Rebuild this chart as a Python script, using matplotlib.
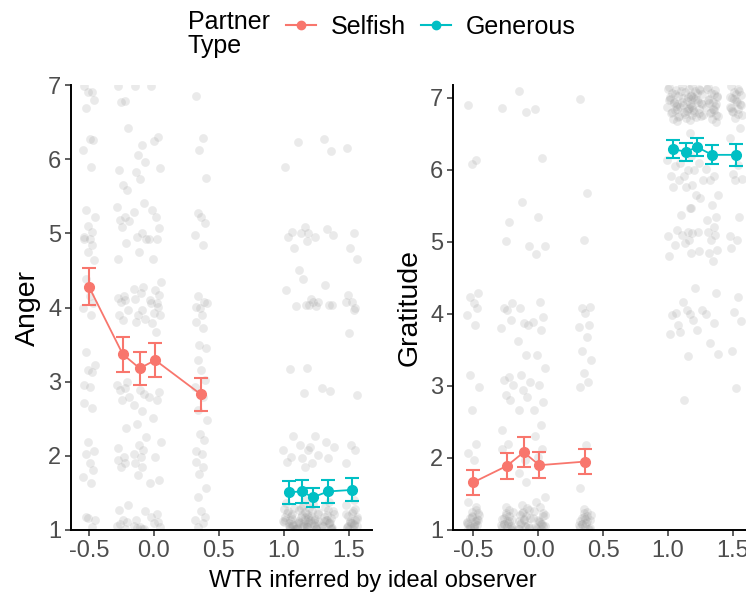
import matplotlib
matplotlib.use("Agg")
import matplotlib.pyplot as plt
from matplotlib.lines import Line2D

plt.rcParams['font.family'] = ['Liberation Sans', 'DejaVu Sans']
plt.rcParams['axes.unicode_minus'] = False

SELFISH = "#F8766D"
GENEROUS = "#00BFC4"

# WTR levels (x) for each partner type
x_selfish = [-0.50, -0.24, -0.11, 0.01, 0.36]
x_generous = [1.04, 1.14, 1.22, 1.34, 1.52]
x_ticks = [-0.5, 0.0, 0.5, 1.0, 1.5]
x_ticklabels = ["-0.5", "0.0", "0.5", "1.0", "1.5"]
y_ticks = [1, 2, 3, 4, 5, 6, 7]

# means and standard errors
anger_selfish_mean = [4.28, 3.37, 3.18, 3.29, 2.83]
anger_selfish_se = [0.25, 0.235, 0.22, 0.23, 0.22]
anger_generous_mean = [1.51, 1.52, 1.44, 1.52, 1.54]
anger_generous_se = [0.155, 0.155, 0.125, 0.155, 0.155]
grat_selfish_mean = [1.66, 1.89, 2.08, 1.90, 1.95]
grat_selfish_se = [0.175, 0.18, 0.21, 0.18, 0.175]
grat_generous_mean = [6.29, 6.25, 6.32, 6.21, 6.21]
grat_generous_se = [0.125, 0.13, 0.13, 0.13, 0.15]

# raw (jittered) ratings, one list per WTR level
anger_selfish_raw = [
    [6.99, 6.90, 6.90, 6.80, 6.69, 6.27, 6.26, 6.13, 5.89, 5.32, 5.22, 5.10, 5.02, 4.95, 4.93,
     4.92, 4.84, 4.75, 4.64, 4.38, 4.15, 4.06, 3.99, 3.90, 3.40, 3.22, 3.16, 3.13, 2.96, 2.93,
     2.71, 2.64, 2.19, 2.06, 2.02, 1.90, 1.81, 1.72, 1.64, 1.18, 1.13, 1.16, 1.04],
    [6.98, 6.79, 6.77, 6.42, 5.85, 5.65, 5.58, 5.36, 5.22, 5.18, 5.16, 5.09, 4.87, 4.66, 4.15,
     4.13, 4.10, 4.08, 3.97, 3.90, 3.83, 3.00, 2.96, 2.92, 2.89, 2.80, 2.75, 2.38, 2.10, 1.99,
     1.94, 1.90, 1.85, 1.34, 1.27, 1.13, 1.11, 1.05, 1.02, 1.08],
    [6.98, 6.19, 6.06, 5.96, 5.83, 5.73, 5.41, 5.29, 5.00, 4.95, 4.92, 4.75, 4.28, 4.25, 4.19,
     4.12, 3.97, 3.90, 3.85, 3.81, 2.89, 2.84, 2.69, 2.60, 2.43, 2.26, 2.15, 2.08, 2.03, 1.99,
     1.90, 1.85, 1.74, 1.25, 1.13, 1.04, 1.02, 1.06, 1.01, 1.03],
    [6.98, 6.30, 6.25, 5.88, 5.31, 5.22, 5.07, 4.93, 4.92, 4.66, 4.35, 4.24, 4.17, 4.10, 4.06,
     4.06, 4.01, 3.92, 3.90, 3.79, 3.67, 2.86, 2.80, 2.75, 2.51, 2.19, 1.99, 1.67, 1.64, 1.22,
     1.18, 1.11, 1.09, 1.04],
    [6.85, 6.28, 6.13, 5.74, 5.27, 5.22, 5.14, 4.98, 4.84, 4.15, 4.06, 3.99, 4.08, 4.01, 3.90,
     3.81, 3.72, 3.49, 3.45, 3.29, 3.16, 3.02, 2.93, 2.80, 2.62, 2.48, 2.30, 2.21, 2.06, 2.03,
     1.92, 1.85, 1.76, 1.56, 1.45, 1.25, 1.18, 1.13, 1.09, 1.04],
]
anger_generous_raw = [
    [5.89, 5.02, 4.95, 4.80, 4.24, 3.17, 2.27, 2.08, 1.99, 1.92,
     1.02, 1.05, 1.08, 1.11, 1.14, 1.17, 1.21, 1.25, 1.30, 1.36, 1.03, 1.07, 1.12, 1.19, 1.23,
     1.01, 1.09, 1.15, 1.28, 1.04, 1.13, 1.06],
    [6.23, 5.09, 5.00, 4.89, 4.51, 4.39, 4.03, 4.02, 2.85, 2.15, 2.08, 1.97, 1.85,
     1.03, 1.06, 1.10, 1.13, 1.18, 1.22, 1.27, 1.33, 1.40, 1.01, 1.05, 1.09, 1.15, 1.20, 1.24,
     1.02, 1.08, 1.12, 1.17, 1.30, 1.04, 1.11],
    [5.01, 4.95, 4.12, 4.08, 4.03, 4.08, 4.02, 3.19, 2.27, 2.12, 2.01, 1.90,
     1.01, 1.04, 1.07, 1.11, 1.15, 1.19, 1.24, 1.29, 1.35, 1.02, 1.06, 1.10, 1.14, 1.21, 1.26,
     1.03, 1.08, 1.13, 1.17, 1.05, 1.09, 1.12],
    [6.27, 6.11, 5.06, 4.98, 4.30, 4.03, 4.04, 2.91, 2.88, 2.19, 2.12, 1.97,
     1.02, 1.05, 1.09, 1.12, 1.16, 1.20, 1.25, 1.31, 1.38, 1.03, 1.07, 1.11, 1.14, 1.22, 1.27,
     1.01, 1.06, 1.10, 1.18, 1.04, 1.13],
    [6.15, 5.01, 4.80, 4.66, 4.17, 4.08, 3.99, 4.08, 3.97, 3.65, 2.82, 2.15, 2.08, 1.91,
     1.01, 1.04, 1.08, 1.12, 1.15, 1.19, 1.23, 1.28, 1.34, 1.41, 1.02, 1.06, 1.10, 1.14, 1.21,
     1.26, 1.03, 1.07, 1.11, 1.17, 1.05, 1.09],
]
grat_selfish_raw = [
    [6.90, 6.14, 6.08, 4.29, 4.24, 4.15, 4.08, 3.99, 3.85, 3.15, 2.98, 2.67, 2.20, 2.07, 1.97,
     1.39, 1.28, 1.18, 1.14, 1.05, 1.02, 1.07, 1.10, 1.13, 1.16, 1.21, 1.25, 1.32, 1.01, 1.04,
     1.09, 1.12, 1.19, 1.23, 1.03, 1.06, 1.15, 1.11, 1.08],
    [6.86, 5.28, 5.01, 4.15, 4.08, 4.06, 3.92, 3.80, 3.13, 3.08, 3.01, 2.88, 2.81, 2.39, 2.20,
     2.13, 1.28, 1.21, 1.14, 1.09, 1.05, 1.02, 1.07, 1.12, 1.17, 1.25, 1.32, 1.01, 1.04, 1.10,
     1.15, 1.19, 1.23, 1.03, 1.08, 1.13, 1.06],
    [7.09, 6.81, 5.56, 4.95, 4.08, 3.87, 3.85, 3.62, 3.43, 3.15, 3.06, 2.94, 2.85, 2.67, 1.97,
     1.79, 1.67, 1.35, 1.28, 1.21, 1.14, 1.07, 1.02, 1.04, 1.10, 1.17, 1.25, 1.31, 1.01, 1.05,
     1.12, 1.19, 1.23, 1.03, 1.08, 1.15],
    [6.85, 6.17, 5.35, 4.94, 4.83, 4.17, 3.96, 3.89, 3.78, 3.43, 3.25, 3.01, 2.78, 2.67, 2.46,
     2.30, 2.13, 2.02, 1.46, 1.39, 1.32, 1.23, 1.16, 1.09, 1.02, 1.05, 1.12, 1.19, 1.27, 1.01,
     1.04, 1.08, 1.14, 1.21, 1.03, 1.11, 1.06],
    [6.98, 5.68, 5.03, 4.10, 4.08, 4.01, 3.85, 3.82, 3.68, 3.48, 3.36, 3.18, 3.06, 2.99, 2.18,
     1.58, 1.25, 1.18, 1.14, 1.09, 1.05, 1.02, 1.07, 1.12, 1.16, 1.21, 1.29, 1.01, 1.04, 1.10,
     1.13, 1.19, 1.24, 1.03, 1.08, 1.15],
]
grat_generous_raw = [
    [7.15, 7.11, 7.07, 7.03, 6.99, 6.95, 6.91, 6.87, 6.83, 6.79, 6.75, 6.71, 6.68, 7.13, 7.05,
     6.97, 6.89, 6.81, 6.73, 7.01, 6.93, 6.85,
     6.14, 6.05, 5.91, 5.86, 5.77, 5.17, 5.08, 4.96, 4.80, 4.02, 3.98, 3.85, 3.72],
    [7.16, 7.12, 7.08, 7.04, 7.00, 6.96, 6.92, 6.88, 6.84, 6.80, 6.76, 6.72, 6.69, 7.10, 7.02,
     6.94, 6.86, 6.78, 6.98, 6.90, 6.82,
     6.51, 6.09, 6.00, 5.91, 5.79, 5.77, 5.47, 5.38, 5.14, 5.10, 5.03, 4.98, 4.84, 4.17, 4.06,
     4.00, 3.75, 3.42, 2.81],
    [7.17, 7.13, 7.09, 7.05, 7.01, 6.97, 6.93, 6.89, 6.85, 6.81, 6.77, 6.73, 7.11, 7.03, 6.95,
     6.87, 6.79, 6.99, 6.91, 6.83, 7.07, 6.75,
     6.19, 6.09, 6.00, 5.86, 5.65, 5.61, 5.47, 5.14, 5.12, 4.87, 4.36, 4.05, 3.92, 3.78],
    [7.15, 7.11, 7.07, 7.03, 6.99, 6.95, 6.91, 6.87, 6.83, 6.79, 6.75, 6.71, 6.67, 7.13, 7.05,
     6.97, 6.89, 6.81, 7.01, 6.93, 6.85, 6.77,
     6.02, 5.91, 5.86, 5.65, 5.51, 5.35, 5.31, 5.21, 5.14, 5.10, 5.03, 4.89, 4.84, 4.73, 4.29,
     4.00, 3.88, 3.60, 3.45],
    [7.16, 7.12, 7.08, 7.04, 7.00, 6.96, 6.92, 6.88, 6.84, 6.80, 6.76, 6.72, 7.10, 7.02, 6.94,
     6.86, 6.78, 6.98, 6.90, 6.82, 7.06,
     6.58, 6.44, 6.07, 5.95, 5.88, 5.86, 5.35, 5.08, 5.03, 4.91, 4.24, 4.03, 3.90, 3.48, 2.97],
]

# fixed horizontal jitter pattern for the raw points
JITTER = [-0.035, 0.02, -0.01, 0.04, -0.025, 0.005, 0.03, -0.045, 0.015, -0.02, 0.045,
          -0.005, 0.025, -0.04, 0.01]


def draw_panel(ax, raw_s, raw_g, mean_s, se_s, mean_g, se_g, ylabel, ylim, xlim):
    for xs, groups in [(x_selfish, raw_s), (x_generous, raw_g)]:
        for x0, vals in zip(xs, groups):
            jx = [x0 + JITTER[i % len(JITTER)] for i in range(len(vals))]
            ax.scatter(jx, vals, s=40, color="#9a9a9a", alpha=0.2, linewidths=0, zorder=1)

    for xs, m, se, c in [(x_selfish, mean_s, se_s, SELFISH),
                         (x_generous, mean_g, se_g, GENEROUS)]:
        ax.errorbar(xs, m, yerr=se, color=c, marker="o", markersize=7, lw=1.3,
                    elinewidth=1.5, capsize=4.8, capthick=1.5, zorder=3)

    ax.set_xlim(*xlim)
    ax.set_ylim(*ylim)
    ax.set_xticks(x_ticks)
    ax.set_xticklabels(x_ticklabels)
    ax.set_yticks(y_ticks)
    ax.set_ylabel(ylabel, fontsize=20.5, labelpad=5)
    for side in ["top", "right"]:
        ax.spines[side].set_visible(False)
    for side in ["left", "bottom"]:
        ax.spines[side].set_linewidth(1.4)
        ax.spines[side].set_color("black")
    ax.tick_params(axis="both", labelsize=17, labelcolor="#4D4D4D", color="#333333",
                   length=4, width=1.1, pad=3)


fig = plt.figure(figsize=(7.46, 5.98), dpi=100)
ax1 = fig.add_axes([71 / 746, 68 / 598, 301 / 746, 445 / 598])
ax2 = fig.add_axes([453 / 746, 68 / 598, 301 / 746, 445 / 598])

draw_panel(ax1, anger_selfish_raw, anger_generous_raw, anger_selfish_mean, anger_selfish_se,
           anger_generous_mean, anger_generous_se, "Anger", (1, 7), (-0.638, 1.677))
draw_panel(ax2, grat_selfish_raw, grat_generous_raw, grat_selfish_mean, grat_selfish_se,
           grat_generous_mean, grat_generous_se, "Gratitude", (1, 7.18), (-0.654, 1.661))

fig.text(0.5, 0.028, "WTR inferred by ideal observer", ha="center", va="center", fontsize=17)

# legend at the top
fig.text(188 / 746, 1 - 10 / 598, "Partner\nType", ha="left", va="top", fontsize=18,
         linespacing=1.0)
handles = [Line2D([], [], color=SELFISH, marker="o", markersize=6, lw=1.5),
           Line2D([], [], color=GENEROUS, marker="o", markersize=6, lw=1.5)]
fig.legend(handles, ["Selfish", "Generous"], loc="center left",
           bbox_to_anchor=(286 / 746, 1 - 27 / 598), ncol=2, frameon=False, fontsize=18,
           handlelength=1.2, handletextpad=0.6, columnspacing=0.6, borderpad=0,
           borderaxespad=0, numpoints=1)

fig.savefig("out.png", dpi=100)
